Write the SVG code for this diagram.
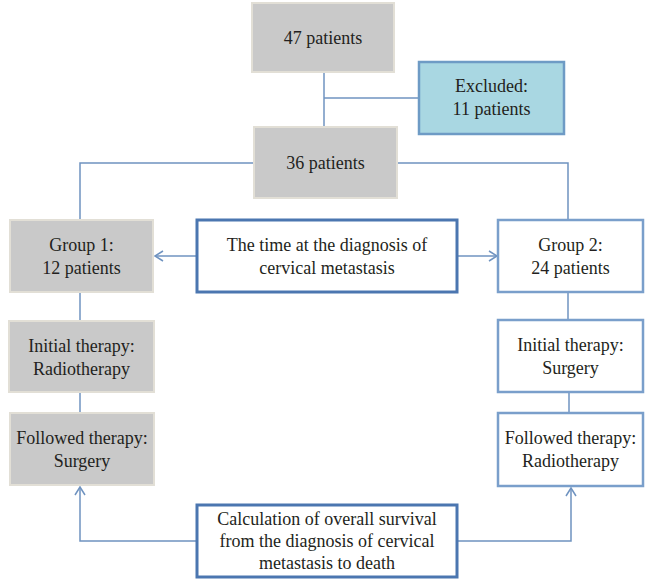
<svg xmlns="http://www.w3.org/2000/svg" width="652" height="584" viewBox="0 0 652 584">
<defs>
<marker id="arr" markerWidth="12" markerHeight="12" refX="10" refY="6" orient="auto" markerUnits="userSpaceOnUse">
<path d="M2,1 L10,6 L2,11" fill="none" stroke="#6f93c0" stroke-width="1.5"/>
</marker>
</defs>
<style>
.gray{fill:#c9c9c9;stroke:#e2dfd6;stroke-width:2}
.excl{fill:#a9d7e2;stroke:#6e9bc5;stroke-width:2.5}
.wb{fill:#ffffff;stroke:#7a9fcb;stroke-width:2.5}
.db{fill:#ffffff;stroke:#4b76b0;stroke-width:3}
text{font-family:'Liberation Serif','DejaVu Serif',serif;font-size:18px;fill:#231f20;text-anchor:middle}
.c{fill:none;stroke:#6f93c0;stroke-width:1.5}
</style>
<rect width="652" height="584" fill="#ffffff"/>
<g id="connectors">
<path class="c" d="M324,72 V128"/>
<path class="c" d="M324,98 H419"/>
<path class="c" d="M254,163 H80 V220"/>
<path class="c" d="M397,163 H568 V220"/>
<path class="c" d="M197,256 H155" marker-end="url(#arr)"/>
<path class="c" d="M457,256 H497" marker-end="url(#arr)"/>
<path class="c" d="M80,292 V321"/>
<path class="c" d="M80,392 V413"/>
<path class="c" d="M568,292 V320"/>
<path class="c" d="M569,392 V413"/>
<path class="c" d="M197,541 H80 V487" marker-end="url(#arr)"/>
<path class="c" d="M457,541 H571 V488" marker-end="url(#arr)"/>
</g>
<g id="n47">
<rect class="gray" x="252" y="3" width="142" height="69"/>
<text x="323" y="44">47 patients</text>
</g>
<g id="excluded">
<rect class="excl" x="419" y="62" width="145" height="72"/>
<text x="491.5" y="92">Excluded:</text>
<text x="491.5" y="115">11 patients</text>
</g>
<g id="n36">
<rect class="gray" x="254" y="127" width="143" height="71"/>
<text x="325.5" y="169">36 patients</text>
</g>
<g id="group1">
<rect class="gray" x="10" y="220" width="143" height="72"/>
<text x="81.5" y="251">Group 1:</text>
<text x="81.5" y="274">12 patients</text>
</g>
<g id="timebox">
<rect class="db" x="197" y="220" width="260" height="72"/>
<text x="327" y="251">The time at the diagnosis of</text>
<text x="327" y="274">cervical metastasis</text>
</g>
<g id="group2">
<rect class="wb" x="498" y="220" width="145" height="72"/>
<text x="570.5" y="251">Group 2:</text>
<text x="570.5" y="274">24 patients</text>
</g>
<g id="init1">
<rect class="gray" x="9" y="321" width="145" height="71"/>
<text x="81.5" y="352">Initial therapy:</text>
<text x="81.5" y="375">Radiotherapy</text>
</g>
<g id="follow1">
<rect class="gray" x="10" y="413" width="144" height="72"/>
<text x="82" y="444">Followed therapy:</text>
<text x="82" y="467">Surgery</text>
</g>
<g id="init2">
<rect class="wb" x="498" y="320" width="145" height="72"/>
<text x="570.5" y="351">Initial therapy:</text>
<text x="570.5" y="374">Surgery</text>
</g>
<g id="follow2">
<rect class="wb" x="498" y="413" width="145" height="73"/>
<text x="570.5" y="444">Followed therapy:</text>
<text x="570.5" y="467">Radiotherapy</text>
</g>
<g id="calc">
<rect class="db" x="197" y="505" width="260" height="72"/>
<text x="327" y="525">Calculation of overall survival</text>
<text x="327" y="547">from the diagnosis of cervical</text>
<text x="327" y="569">metastasis to death</text>
</g>
</svg>
